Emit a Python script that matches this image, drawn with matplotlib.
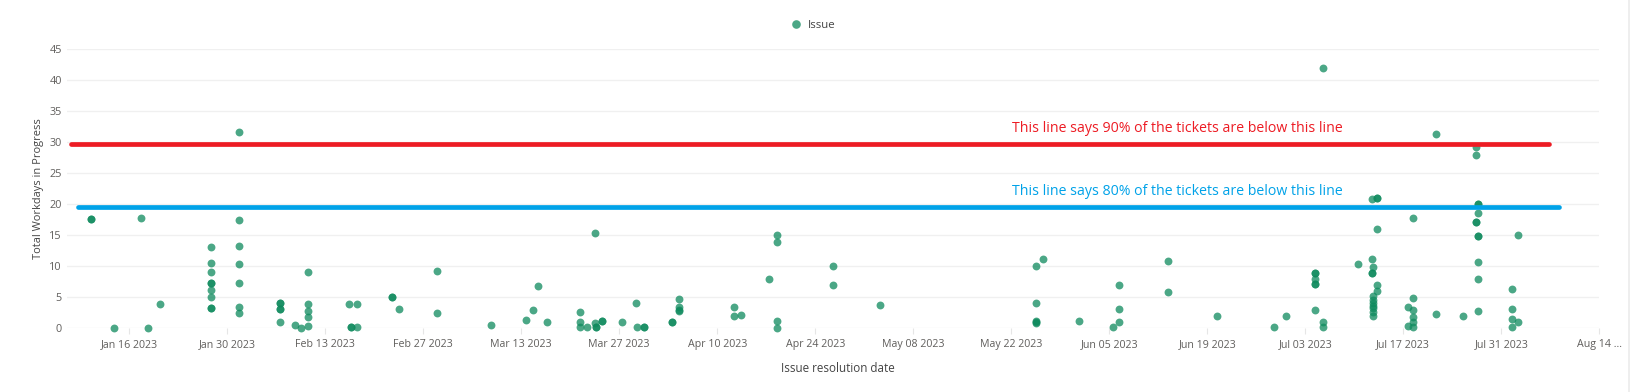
import matplotlib
matplotlib.use("Agg")
import matplotlib.pyplot as plt
from matplotlib.lines import Line2D
from matplotlib.patches import Rectangle
import pandas as pd

plt.rcParams['font.family'] = ['Open Sans', 'DejaVu Sans']

# ---------------- data ----------------
resolution_dates = (
    ["2023-01-10 13:00"] * 2 + ["2023-01-13 19:00", "2023-01-17 18:00", "2023-01-18 17:00", "2023-01-20 10:00"]
    + ["2023-01-27 16:00"] * 9 + ["2023-01-31 18:00"] * 7 + ["2023-02-06 14:00"] * 5
    + ["2023-02-08 16:00", "2023-02-09 14:00"] + ["2023-02-10 13:00"] * 5
    + ["2023-02-16 10:00"] + ["2023-02-16 16:00"] * 2 + ["2023-02-17 14:00"] * 2
    + ["2023-02-22 14:00"] * 2 + ["2023-02-23 13:00"] + ["2023-02-28 22:00"] * 2
    + ["2023-03-08 16:00", "2023-03-13 15:00", "2023-03-14 15:00", "2023-03-15 08:00", "2023-03-16 15:00"]
    + ["2023-03-21 09:00"] * 3 + ["2023-03-22 09:00"] + ["2023-03-23 12:00"] * 2
    + ["2023-03-23 16:00"] * 2 + ["2023-03-24 13:00"] * 2 + ["2023-03-27 09:00", "2023-03-29 10:00", "2023-03-29 14:00"]
    + ["2023-03-30 12:00"] * 2 + ["2023-04-03 14:00"] * 2 + ["2023-04-04 12:00"] * 4
    + ["2023-04-12 08:00"] * 2 + ["2023-04-13 10:00", "2023-04-17 09:00"] + ["2023-04-18 13:00"] * 4
    + ["2023-04-26 12:00"] * 2 + ["2023-05-03 06:00"] + ["2023-05-25 14:00"] * 5
    + ["2023-05-26 12:00", "2023-05-31 17:00", "2023-06-05 12:00"] + ["2023-06-06 11:00"] * 3
    + ["2023-06-13 10:00"] * 2 + ["2023-06-20 08:00", "2023-06-28 14:00", "2023-06-30 06:00"]
    + ["2023-07-04 08:00"] * 6 + ["2023-07-05 12:00"] * 3 + ["2023-07-10 13:00"]
    + ["2023-07-12 13:00"] * 4 + ["2023-07-12 16:00"] * 8 + ["2023-07-13 06:00"] * 5
    + ["2023-07-17 15:00"] * 2 + ["2023-07-18 10:00"] * 6 + ["2023-07-21 15:00"] * 2
    + ["2023-07-25 14:00"] + ["2023-07-27 10:00"] * 4 + ["2023-07-27 17:00"] * 8
    + ["2023-08-01 12:00"] * 4 + ["2023-08-02 08:00"] * 2
)

workdays = (
    [17.6, 17.6, 0.0, 17.7, 0.0, 3.9]
    + [13.0, 10.5, 9.0, 7.2, 7.2, 6.1, 4.9, 3.1, 3.1]
    + [31.6, 17.3, 13.1, 10.2, 7.2, 3.4, 2.3]
    + [4.05, 4.05, 3.0, 3.0, 1.0]
    + [0.4, 0.0]
    + [9.0, 3.9, 2.75, 1.8, 0.25]
    + [3.9] + [0.1, 0.1] + [3.9, 0.05]
    + [5.0, 5.0] + [3.05] + [9.15, 2.4]
    + [0.4, 1.3, 2.9, 6.7, 0.85]
    + [2.6, 1.0, 0.05] + [0.05] + [15.2, 0.75]
    + [0.05, 0.05] + [1.05, 1.05] + [0.85, 4.05, 0.05]
    + [0.05, 0.05] + [1.0, 1.0] + [4.7, 3.3, 2.8, 2.75]
    + [3.4, 1.95] + [2.1, 7.85] + [14.95, 13.9, 1.05, 0.0]
    + [9.95, 6.9] + [3.7] + [9.95, 4.05, 1.15, 1.0, 0.8]
    + [11.05, 1.15, 0.05] + [6.9, 3.05, 1.0]
    + [10.75, 5.8] + [1.95, 0.05, 1.85]
    + [8.8, 8.8, 7.9, 7.1, 7.1, 2.9] + [41.9, 0.85, 0.05] + [10.3]
    + [20.8, 11.1, 8.9, 8.9] + [9.8, 5.1, 4.5, 4.0, 3.5, 3.1, 2.5, 1.95] + [20.9, 20.9, 16.0, 6.9, 5.9]
    + [3.3, 0.25] + [17.75, 4.85, 2.9, 1.8, 0.9, 0.05] + [31.3, 2.25]
    + [1.95] + [29.2, 27.8, 17.1, 17.1] + [19.95, 19.95, 18.55, 14.8, 14.8, 10.55, 7.85, 2.75]
    + [6.25, 3.05, 1.45, 0.15] + [14.9, 0.95]
)

p90_value = 29.6
p80_value = 19.4
p90_span = ["2023-01-07 18:00", "2023-08-06 21:00"]
p80_span = ["2023-01-08 17:00", "2023-08-08 07:00"]
p90_text = "This line says 90% of the tickets are below this line"
p80_text = "This line says 80% of the tickets are below this line"

xtick_dates = ["2023-01-16", "2023-01-30", "2023-02-13", "2023-02-27", "2023-03-13", "2023-03-27",
               "2023-04-10", "2023-04-24", "2023-05-08", "2023-05-22", "2023-06-05", "2023-06-19",
               "2023-07-03", "2023-07-17", "2023-07-31", "2023-08-14"]
xtick_labels = ["Jan 16 2023", "Jan 30 2023", "Feb 13 2023", "Feb 27 2023", "Mar 13 2023", "Mar 27 2023",
                "Apr 10 2023", "Apr 24 2023", "May 08 2023", "May 22 2023", "Jun 05 2023", "Jun 19 2023",
                "Jul 03 2023", "Jul 17 2023", "Jul 31 2023", "Aug 14 ..."]
ytick_values = [0, 5, 10, 15, 20, 25, 30, 35, 40, 45]

# ---------------- figure ----------------
W, H = 1631, 392
fig = plt.figure(figsize=(W / 100, H / 100), dpi=100)
ax = fig.add_axes([66.7 / W, 1 - 327.7 / H, (1599.3 - 66.7) / W, (327.7 - 48.7) / H])

point_color = "#0e8a5d"
x = pd.to_datetime(resolution_dates)
ax.scatter(x, workdays, s=32, color=point_color, alpha=0.75, linewidths=0, zorder=3, clip_on=False)

ax.plot(pd.to_datetime(p90_span), [p90_value, p90_value], color="#ed1c24", lw=3.4,
        solid_capstyle="round", zorder=4)
ax.plot(pd.to_datetime(p80_span), [p80_value, p80_value], color="#00a2e8", lw=3.4,
        solid_capstyle="round", zorder=4)

text_x = pd.Timestamp("2023-06-14 17:00")
ax.text(text_x, p90_value + 2.6, p90_text, color="#ed1c24", fontsize=10.2, ha="center", va="center", zorder=5)
ax.text(text_x, p80_value + 2.5, p80_text, color="#00a2e8", fontsize=10.2, ha="center", va="center", zorder=5)

ax.set_xlim(pd.Timestamp("2023-01-07 02:00"), pd.Timestamp("2023-08-14 00:00"))
ax.set_ylim(0, 45)

ax.set_yticks(ytick_values)
ax.set_yticklabels([str(v) for v in ytick_values])
ax.set_xticks(pd.to_datetime(xtick_dates))
ax.set_xticklabels(xtick_labels)

for s in ax.spines.values():
    s.set_visible(False)
ax.grid(axis="y", color="#f0f0f0", lw=1)
ax.grid(axis="x", visible=False)
ax.set_axisbelow(True)
ax.tick_params(axis="y", length=0, pad=3.4, labelsize=7.8, labelcolor="#605e5c")
ax.tick_params(axis="x", length=4, width=0.8, color="#e6e6e6", pad=4, labelsize=7.7, labelcolor="#605e5c")

ax.set_xlabel("Issue resolution date", fontsize=8.4, color="#444444")
ax.xaxis.set_label_coords((838 - 66.7) / (1599.3 - 66.7), -(369 - 327.7) / (327.7 - 48.7))
ax.xaxis.label.set_va("center")
ax.set_ylabel("Total Workdays in Progress", fontsize=7.9, color="#444444", labelpad=4)

handle = Line2D([], [], marker="o", ls="", color=point_color, alpha=0.75, markersize=6.2, markeredgewidth=0)
fig.legend([handle], ["Issue"], loc="center", bbox_to_anchor=(813 / W, 1 - 25 / H), frameon=False,
           handletextpad=0.5, fontsize=8.2, labelcolor="#444444", handlelength=1.0)

fig.add_artist(Rectangle((1628 / W, 0), 3 / W, 1, transform=fig.transFigure, color="#eeeeee", lw=0))

fig.savefig("out.png", dpi=100, facecolor="white")
